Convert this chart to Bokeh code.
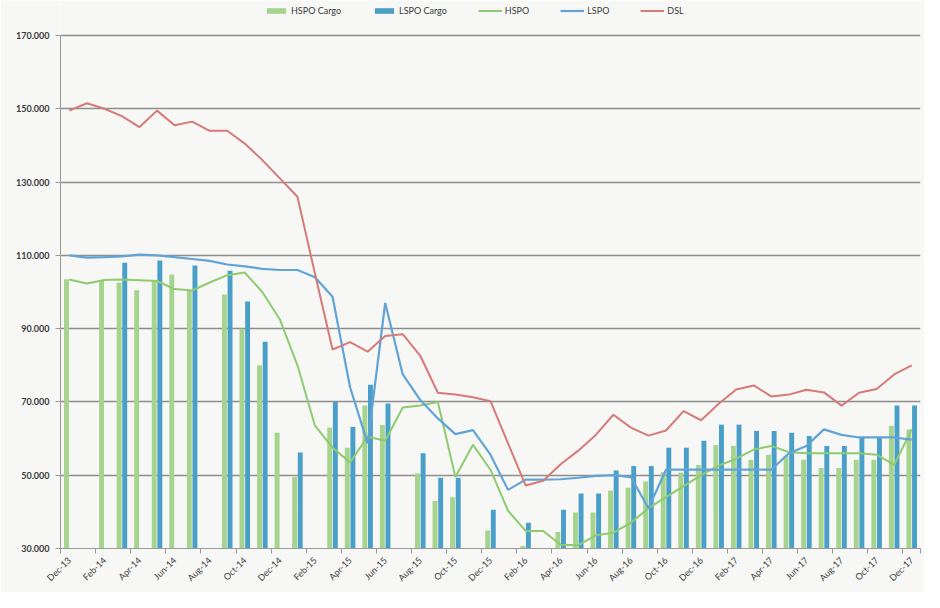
import math
from bokeh.plotting import figure
from bokeh.models import Range1d, FixedTicker, Legend, LegendItem
from bokeh.embed import file_html
from bokeh.resources import INLINE

months = ["Dec-13", "Jan-14", "Feb-14", "Mar-14", "Apr-14", "May-14", "Jun-14", "Jul-14",
          "Aug-14", "Sep-14", "Oct-14", "Nov-14", "Dec-14", "Jan-15", "Feb-15", "Mar-15",
          "Apr-15", "May-15", "Jun-15", "Jul-15", "Aug-15", "Sep-15", "Oct-15", "Nov-15",
          "Dec-15", "Jan-16", "Feb-16", "Mar-16", "Apr-16", "May-16", "Jun-16", "Jul-16",
          "Aug-16", "Sep-16", "Oct-16", "Nov-16", "Dec-16", "Jan-17", "Feb-17", "Mar-17",
          "Apr-17", "May-17", "Jun-17", "Jul-17", "Aug-17", "Sep-17", "Oct-17", "Nov-17",
          "Dec-17"]

# values in thousands
hspo_cargo = [103.5, None, 103.0, 102.5, 100.5, 103.0, 104.8, 100.4,
              None, 99.3, 90.0, 80.0, 61.6, 49.5, None, 63.0,
              57.5, 69.0, 63.7, None, 50.5, 43.0, 44.0, None,
              34.9, None, 30.7, None, 34.5, 39.8, 39.8, 45.8,
              46.6, 48.3, 50.8, 50.7, 52.8, 58.2, 58.0, 54.2,
              55.6, 55.3, 54.2, 52.0, 52.0, 54.2, 54.2, 63.5,
              62.5]
lspo_cargo = [None, None, None, 108.0, None, 108.6, None, 107.2,
              None, 105.8, 97.4, 86.4, None, 56.2, None, 70.0,
              63.2, 74.7, 69.6, None, 56.0, 49.3, 49.3, None,
              40.6, None, 37.0, None, 40.6, 45.0, 45.0, 51.3,
              52.5, 52.5, 57.5, 57.5, 59.4, 63.8, 63.8, 62.1,
              62.1, 61.6, 60.7, 58.0, 58.0, 60.3, 60.3, 69.0,
              69.0]
hspo = [103.4, 102.3, 103.3, 103.4, 103.2, 103.0, 100.8, 100.4,
        102.6, 104.6, 105.3, 100.0, 92.5, 80.0, 63.5, 57.5,
        53.5, 60.5, 59.4, 68.5, 69.0, 70.0, 49.5, 58.3,
        51.5, 40.3, 34.8, 34.8, 31.0, 30.9, 33.6, 34.3,
        37.0, 41.0, 44.0, 47.0, 50.0, 52.6, 54.5, 57.0,
        58.0, 56.3, 56.0, 56.0, 56.0, 56.0, 55.6, 52.8,
        62.5]
lspo = [110.0, 109.4, 109.5, 109.7, 110.2, 110.0, 109.5, 109.0,
        108.5, 107.5, 107.0, 106.3, 106.0, 106.0, 104.0, 98.7,
        74.0, 58.7, 97.0, 77.5, 70.5, 65.5, 61.2, 62.3,
        55.6, 46.0, 48.8, 48.8, 48.9, 49.3, 49.8, 50.0,
        49.5, 41.0, 51.5, 51.5, 51.5, 51.5, 51.5, 51.5,
        51.5, 56.0, 58.0, 62.5, 61.0, 60.3, 60.3, 60.3,
        59.7]
dsl = [149.5, 151.5, 150.0, 148.0, 145.0, 149.5, 145.5, 146.5,
       144.0, 144.0, 140.5, 136.0, 131.0, 126.0, 105.0, 84.3,
       86.3, 83.7, 88.0, 88.5, 82.6, 72.5, 72.0, 71.3,
       70.2, 58.7, 47.2, 48.5, 53.0, 56.7, 61.0, 66.5,
       63.0, 60.8, 62.2, 67.5, 65.0, 69.5, 73.4, 74.5,
       71.5, 72.0, 73.3, 72.6, 69.0, 72.5, 73.5, 77.5,
       80.0]

y_ticks = [30, 50, 70, 90, 110, 130, 150, 170]
y_tick_labels = ["30.000", "50.000", "70.000", "90.000", "110.000", "130.000", "150.000", "170.000"]

C_HSPO_BAR = "#a6d38e"
C_LSPO_BAR = "#4a9fc9"
C_HSPO = "#8ecb70"
C_LSPO = "#62a3d6"
C_DSL = "#d57b77"
BG = "#f7f8f6"
FONT = "Lato"

idx = list(range(len(months)))

# frame spans the full height above the axis; the band above 170 holds the legend
p = figure(width=924, height=592, output_backend="svg", toolbar_location=None,
           x_range=Range1d(-0.5, len(months) - 0.5), y_range=Range1d(30, 179.55),
           min_border_left=60, min_border_right=4, min_border_top=0, min_border_bottom=44)
p.background_fill_color = BG
p.border_fill_color = BG
p.outline_line_color = None

# bars
g_x = [i - 0.16 for i, v in zip(idx, hspo_cargo) if v is not None]
g_top = [v for v in hspo_cargo if v is not None]
b_x = [i + 0.16 for i, v in zip(idx, lspo_cargo) if v is not None]
b_top = [v for v in lspo_cargo if v is not None]
g_bars = p.vbar(x=g_x, top=g_top, bottom=30, width=0.28, fill_color=C_HSPO_BAR, line_color=None)
b_bars = p.vbar(x=b_x, top=b_top, bottom=30, width=0.28, fill_color=C_LSPO_BAR, line_color=None)

# lines
l_hspo = p.line(idx, hspo, line_color=C_HSPO, line_width=2)
l_lspo = p.line(idx, lspo, line_color=C_LSPO, line_width=2.2)
l_dsl = p.line(idx, dsl, line_color=C_DSL, line_width=2)

# grid
p.xgrid.grid_line_color = None
p.ygrid.grid_line_color = "#8d8d8d"
p.ygrid.grid_line_width = 1.6

# y axis
p.yaxis.ticker = FixedTicker(ticks=y_ticks)
p.yaxis.bounds = (30, 170)
p.yaxis.major_label_overrides = {t: l for t, l in zip(y_ticks, y_tick_labels)}
p.yaxis.axis_line_color = "#999999"
p.yaxis.major_tick_line_color = "#999999"
p.yaxis.major_tick_out = 5
p.yaxis.major_tick_in = 0
p.yaxis.minor_tick_line_color = None
p.yaxis.major_label_text_font = FONT
p.yaxis.major_label_text_font_size = "9px"
p.yaxis.major_label_text_font_style = "bold"
p.yaxis.major_label_text_color = "#3a3a3a"
p.yaxis.major_label_standoff = 6

# x axis: labels at every second month, tick marks at category boundaries
label_ticks = idx[::2]
boundary_ticks = [i - 0.5 for i in idx[::2]] + [len(months) - 0.5]
p.xaxis.ticker = FixedTicker(ticks=label_ticks, minor_ticks=boundary_ticks)
p.xaxis.major_label_overrides = {i: months[i] for i in label_ticks}
p.xaxis.major_label_orientation = math.pi / 4
p.xaxis.axis_line_color = "#999999"
p.xaxis.major_tick_line_color = None
p.xaxis.minor_tick_line_color = "#999999"
p.xaxis.minor_tick_out = 5
p.xaxis.minor_tick_in = 0
p.xaxis.major_label_text_font = FONT
p.xaxis.major_label_text_font_size = "9px"
p.xaxis.major_label_text_color = "#3a3a3a"
p.xaxis.major_label_standoff = 4

legend = Legend(items=[
    LegendItem(label="HSPO Cargo", renderers=[g_bars]),
    LegendItem(label="LSPO Cargo", renderers=[b_bars]),
    LegendItem(label="HSPO", renderers=[l_hspo]),
    LegendItem(label="LSPO", renderers=[l_lspo]),
    LegendItem(label="DSL", renderers=[l_dsl]),
], orientation="horizontal", location=(204, 532))
legend.background_fill_alpha = 0
legend.border_line_color = None
legend.label_text_font = FONT
legend.label_text_font_size = "9px"
legend.label_text_color = "#3a3a3a"
legend.glyph_width = 24
legend.glyph_height = 7
legend.label_standoff = 3
legend.spacing = 31
legend.padding = 2
legend.margin = 0
legend.label_height = 10
p.add_layout(legend)

open("out.html", "w").write(file_html(p, INLINE))
